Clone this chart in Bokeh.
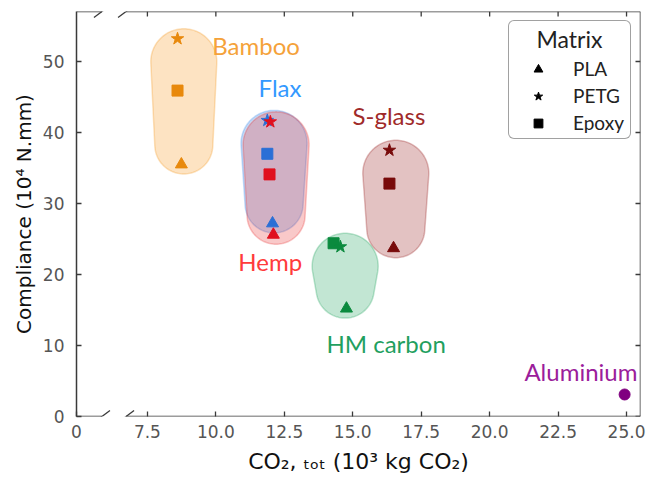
import numpy as np
from bokeh.plotting import figure
from bokeh.models import (Range1d, FixedTicker, PrintfTickFormatter,
                          Legend, LegendItem, Arrow, ColumnDataSource)
from bokeh.core.properties import value
from bokeh.embed import file_html
from bokeh.resources import INLINE

# ---------------- data ----------------
materials = ["Bamboo", "Flax", "Hemp", "S-glass", "HM carbon"]
pla_co2 = [8.74, 12.07, 12.10, 16.49, 14.77]
pla_comp = [35.5, 27.2, 25.6, 23.7, 15.2]
petg_co2 = [8.60, 11.88, 11.99, 16.34, 14.55]
petg_comp = [53.2, 41.7, 41.5, 37.5, 23.9]
epoxy_co2 = [8.60, 11.88, 11.96, 16.34, 14.30]
epoxy_comp = [45.9, 37.0, 34.1, 32.8, 24.4]
alu_name = ["Aluminium"]
alu_co2 = [24.93]
alu_comp = [3.1]
x_tick_values = [7.5, 10.0, 12.5, 15.0, 17.5, 20.0, 22.5, 25.0]
y_tick_values = [0, 10, 20, 30, 40, 50]
x_break_label = "0"

# ---------------- styles ----------------
marker_colors = {"Bamboo": "#e8890c", "Flax": "#2a6fd6", "Hemp": "#e0101e",
                 "S-glass": "#780a0a", "HM carbon": "#0b8a3e", "Aluminium": "#800080"}
text_colors = {"Bamboo": "#f5a23a", "Flax": "#3399ff", "Hemp": "#ff3b3b",
               "S-glass": "#a02a2a", "HM carbon": "#1fa060", "Aluminium": "#9b1d9b"}
blob_colors = {"Bamboo": "#f58c00", "Flax": "#1e78e6", "Hemp": "#e61e1e",
               "S-glass": "#8b0000", "HM carbon": "#009646"}
label_pos = {"Bamboo": (9.87, 52.2), "Flax": (11.56, 46.3), "Hemp": (10.82, 21.9),
             "S-glass": (14.99, 42.4), "HM carbon": (14.04, 10.3), "Aluminium": (21.27, 6.4)}

X0, X1 = 4.91, 25.51
Y0, Y1 = 0.0, 57.04
SX, SY = 27.37, 7.1           # approx. px per data unit (for blob shape / decorations)
SPINE = "#3a3a3a"

p = figure(width=662, height=480, x_range=Range1d(X0, X1), y_range=Range1d(Y0, Y1),
           output_backend="svg", toolbar_location=None,
           min_border_left=76, min_border_right=22, min_border_top=11, min_border_bottom=64)
p.xgrid.visible = False
p.ygrid.visible = False
p.outline_line_color = None


def hull(pts):
    pts = sorted(map(tuple, pts))
    def cross(o, a, b):
        return (a[0]-o[0])*(b[1]-o[1]) - (a[1]-o[1])*(b[0]-o[0])
    lower, upper = [], []
    for q in pts:
        while len(lower) >= 2 and cross(lower[-2], lower[-1], q) <= 0:
            lower.pop()
        lower.append(q)
    for q in reversed(pts):
        while len(upper) >= 2 and cross(upper[-2], upper[-1], q) <= 0:
            upper.pop()
        upper.append(q)
    return np.array(lower[:-1] + upper[:-1])


def blob(xs, ys, rt=33.0, rb=29.0, dx=5.0, pad_top=10.0, pad_bot=9.5):
    """Smooth, slightly tapered rounded shape around the points (screen-like units)."""
    px = np.array(xs) * SX
    py = np.array(ys) * SY
    cx = px.mean() + dx
    top, bot = py.max() + pad_top, py.min() - pad_bot
    ya, yb = top - rt, bot + rb
    t = np.linspace(0, 2 * np.pi, 120, endpoint=False)
    pts = list(zip(cx + rt * np.cos(t), ya + rt * np.sin(t))) + \
        list(zip(cx + rb * np.cos(t), yb + rb * np.sin(t)))
    h = hull(pts)
    return h[:, 0] / SX, h[:, 1] / SY


for i, m in enumerate(materials):
    bx, by = blob([pla_co2[i], petg_co2[i], epoxy_co2[i]],
                  [pla_comp[i], petg_comp[i], epoxy_comp[i]])
    c = blob_colors[m]
    p.patch(bx, by, fill_color=c, fill_alpha=0.24, line_color=c, line_alpha=0.25, line_width=1.5)

for i, m in enumerate(materials):
    c = marker_colors[m]
    p.scatter([pla_co2[i]], [pla_comp[i]], marker="triangle", size=12, color=c)
    p.scatter([epoxy_co2[i]], [epoxy_comp[i]], marker="square", size=11, color=c)
    p.scatter([petg_co2[i]], [petg_comp[i]], marker="star", size=13, color=c)

p.scatter(alu_co2, alu_comp, marker="circle", size=11, color=marker_colors["Aluminium"])

names = materials + alu_name
lsrc = ColumnDataSource(dict(x=[label_pos[n][0] for n in names], y=[label_pos[n][1] for n in names],
                             t=names, c=[text_colors[n] for n in names]))
p.text(x="x", y="y", text="t", text_color="c", source=lsrc, text_font=value("Lato"),
       text_font_size="24px", text_align="left", text_baseline="middle")

# legend
nan = [float("nan")]
r_pla = p.scatter(nan, nan, marker="triangle", size=11, color="black")
r_petg = p.scatter(nan, nan, marker="star", size=10, color="black")
r_epoxy = p.scatter(nan, nan, marker="square", size=9, color="black")
legend = Legend(items=[LegendItem(label="PLA", renderers=[r_pla]),
                       LegendItem(label="PETG", renderers=[r_petg]),
                       LegendItem(label="Epoxy", renderers=[r_epoxy])],
                title="    Matrix    ", location="top_right", margin=9,
                border_line_color="#444444", border_line_width=1.5,
                label_text_font="Lato", label_text_font_size="19px", label_text_color="#222222",
                title_text_font="Lato", title_text_font_size="23px", title_text_font_style="normal",
                title_text_color="#222222", title_standoff=4,
                padding=4, spacing=4, label_height=22, glyph_height=22, glyph_width=50,
                label_standoff=10)
if "border_radius" in Legend.properties():
    legend.border_radius = 6
p.add_layout(legend)

# axes
xt = FixedTicker(ticks=[X0] + x_tick_values)
yt = FixedTicker(ticks=y_tick_values)
for ax in (p.xaxis[0], p.yaxis[0]):
    ax.major_tick_in = 5
    ax.major_tick_out = 0
    ax.minor_tick_line_color = None
    ax.major_tick_line_color = SPINE
    ax.major_tick_line_width = 1.3
    ax.major_label_text_color = "#555555"
    ax.major_label_text_font = "DejaVu Sans"
    ax.major_label_text_font_size = "17px"
    ax.axis_label_text_font = "DejaVu Sans"
    ax.axis_label_text_font_style = "normal"
    ax.axis_label_text_color = "#111111"
    ax.axis_line_color = SPINE
    ax.axis_line_width = 1.5
p.xaxis[0].ticker = xt
p.xaxis[0].formatter = PrintfTickFormatter(format="%.1f")
p.xaxis[0].major_label_overrides = {X0: x_break_label}
p.xaxis[0].axis_line_color = None
p.xaxis[0].major_label_standoff = 8
p.xaxis[0].axis_label_standoff = 8
p.xaxis[0].axis_label_text_font_size = "22px"
p.xaxis[0].axis_label = "CO₂, ₜₒₜ (10³ kg CO₂)"
p.yaxis[0].ticker = yt
p.yaxis[0].major_label_standoff = 12
p.yaxis[0].axis_label_standoff = 4
p.yaxis[0].axis_label_text_font_size = "20px"
p.yaxis[0].axis_label = "Compliance (10⁴ N.mm)"


def seg(x0, y0, x1, y1, w=1.5):
    p.add_layout(Arrow(end=None, x_start=x0, y_start=y0, x_end=x1, y_end=y1,
                       line_color=SPINE, line_width=w))


# right spine with inward ticks
seg(X1, Y0, X1, Y1)
for t in y_tick_values:
    seg(X1, t, X1 - 5.0 / SX, t, 1.3)
# top ticks
for t in x_tick_values:
    seg(t, Y1, t, Y1 - 5.0 / SY, 1.3)

# broken bottom / top spines
b1, b2 = 5.84, 6.72
dxs, dys = 8.0 / SX, 6.0 / SY
for yy in (Y0, Y1):
    seg(X0, yy, b1, yy)
    seg(b2, yy, X1, yy)
    for bc in (b1, b2):
        seg(bc - dxs, yy - dys, bc + dxs, yy + dys, 1.3)

open("out.html", "w").write(file_html(p, INLINE))
